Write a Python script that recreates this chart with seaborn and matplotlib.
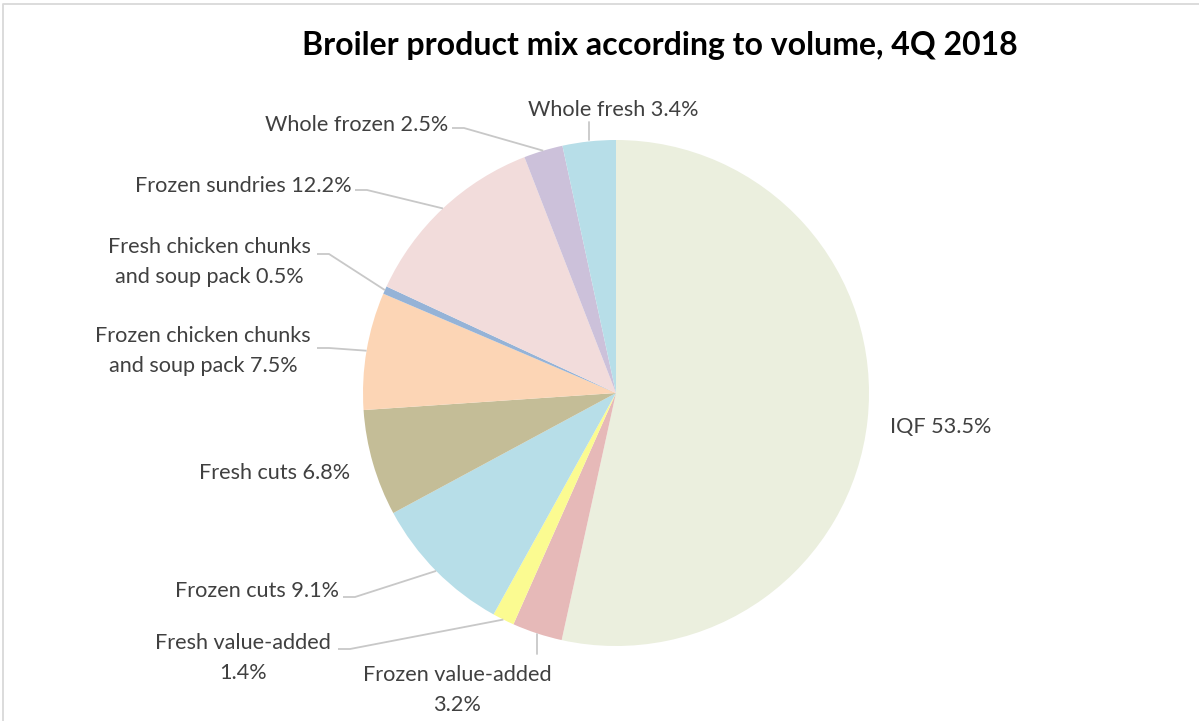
import numpy as np
import matplotlib
matplotlib.use("Agg")
import matplotlib.pyplot as plt
import seaborn as sns

# ---- data ----
categories = ["IQF", "Frozen value-added", "Fresh value-added", "Frozen cuts",
              "Fresh cuts", "Frozen chicken chunks\nand soup pack",
              "Fresh chicken chunks\nand soup pack", "Frozen sundries",
              "Whole frozen", "Whole fresh"]
values = [53.5, 3.2, 1.4, 9.1, 6.8, 7.5, 0.5, 12.2, 2.5, 3.4]
label_text = ["IQF 53.5%", "Frozen value-added\n3.2%", "Fresh value-added\n1.4%",
              "Frozen cuts 9.1%", "Fresh cuts 6.8%",
              "Frozen chicken chunks\nand soup pack 7.5%",
              "Fresh chicken chunks\nand soup pack 0.5%",
              "Frozen sundries 12.2%", "Whole frozen 2.5%", "Whole fresh 3.4%"]
colors = ["#EBEFDE", "#E6B9B8", "#FBFB91", "#B7DEE8", "#C4BD97",
          "#FCD5B5", "#95B3D7", "#F2DCDB", "#CCC1DA", "#B7DEE8"]

# ---- layout (pixels, y from top) ----
W, H = 1199, 721
CX, CY, R = 616, 393, 253
label_layout = [
    (890, 427, "left", None),
    (457, 690, "center", "v"),
    (243, 658, "center", "h"),
    (339, 591, "right", "h"),
    (350, 473, "right", None),
    (311, 351, "right", "h"),
    (311, 262, "right", "h"),
    (352, 186, "right", "h"),
    (448, 125, "right", "h"),
    (613, 110, "center", "v"),
]
elbow_start = {2: 338, 3: 343, 5: 317, 6: 317, 7: 355, 8: 452}
elbow_y = {2: 649, 3: 597, 5: 348, 6: 254, 7: 190, 8: 128}

sns.set_theme(style="white")
plt.rcParams["font.family"] = ["Lato", "DejaVu Sans"]

fig = plt.figure(figsize=(W / 100, H / 100), dpi=100)
ax = fig.add_axes([0, 0, 1, 1])
ax.set_xlim(0, W)
ax.set_ylim(0, H)
ax.set_aspect("equal")
ax.axis("off")

pal = sns.color_palette(colors)
wedges, _ = ax.pie(values, colors=pal, startangle=90, counterclock=False,
                   center=(CX, H - CY), radius=R,
                   wedgeprops=dict(linewidth=0, edgecolor="none"))
ax.set_xlim(0, W)
ax.set_ylim(0, H)

line_col = "#C8C8C8"
for i, w in enumerate(wedges):
    mid = np.deg2rad((w.theta1 + w.theta2) / 2)
    px = CX + R * np.cos(mid)
    py = CY - R * np.sin(mid)
    x, y, ha, style = label_layout[i]
    ax.text(x, H - y, label_text[i], ha=ha, va="center", fontsize=15.6,
            color="#404040", linespacing=1.6, multialignment="center")
    if style == "h":
        ex, ey = elbow_start[i], elbow_y[i]
        ax.plot([ex, ex + 12, px], [H - ey, H - ey, H - py], color=line_col,
                lw=1.3, solid_capstyle="butt")
    elif style == "v":
        if py > CY:
            ax.plot([px, px], [H - (py + 1), H - (py + 21)], color=line_col, lw=1.3)
        else:
            ax.plot([px, px], [H - (py - 1), H - (py - 19)], color=line_col, lw=1.3)

ax.text(660, H - 45, "Broiler product mix according to volume, 4Q 2018",
        ha="center", va="center", fontsize=23, fontweight="bold", color="#000000")

# chart border
ax.plot([3, 3, W + 5], [-5, H - 4, H - 4], color="#D9D9D9", lw=1.3)

fig.savefig("out.png", dpi=100)
